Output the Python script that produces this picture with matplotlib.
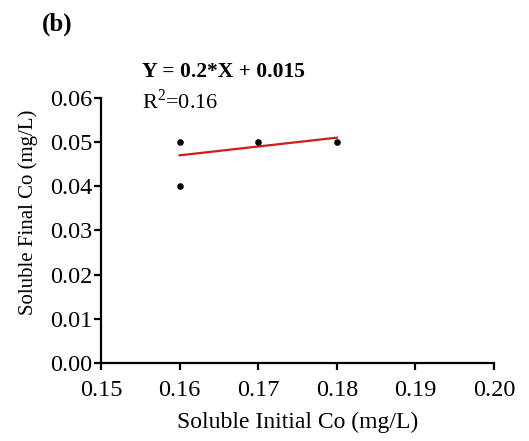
import matplotlib.pyplot as plt
import numpy as np

plt.rcParams['font.family'] = ['Liberation Serif', 'DejaVu Serif']
plt.rcParams['mathtext.fontset'] = 'custom'
plt.rcParams['mathtext.rm'] = 'Liberation Serif'

# data
initial_co = [0.16, 0.16, 0.17, 0.18]
final_co = [0.05, 0.04, 0.05, 0.05]
slope = 0.2
intercept = 0.015
r2 = 0.16

fig = plt.figure(figsize=(5.29, 4.41), dpi=100)
ax = fig.add_axes([0.191, 0.177, 0.743, 0.601])

ax.scatter(initial_co, final_co, color='black', s=14, zorder=3)

fit_x = np.array([min(initial_co), max(initial_co)])
ax.plot(fit_x, slope * fit_x + intercept, color='#d7191c', linewidth=1.6)

ax.set_xlim(0.15, 0.20)
ax.set_ylim(0.0, 0.06)
ax.set_xticks(np.arange(0.15, 0.2001, 0.01))
ax.set_yticks(np.arange(0.0, 0.0601, 0.01))
ax.xaxis.set_major_formatter(plt.FormatStrFormatter('%.2f'))
ax.yaxis.set_major_formatter(plt.FormatStrFormatter('%.2f'))

for side in ['top', 'right']:
    ax.spines[side].set_visible(False)
for side in ['left', 'bottom']:
    ax.spines[side].set_linewidth(1.6)
ax.tick_params(direction='out', length=5, width=1.6, labelsize=17.5)
ax.tick_params(axis='x', pad=7)
ax.tick_params(axis='y', pad=1)

ax.set_xlabel('Soluble Initial Co (mg/L)', fontsize=17, labelpad=8)
ax.set_ylabel('Soluble Final Co (mg/L)', fontsize=15)
ax.yaxis.set_label_coords(-0.16, 0.57)

fig.text(0.268, 0.837, 'Y = 0.2*X + 0.015', fontsize=15.5, fontweight='bold', va='center')
fig.text(0.268, 0.769, 'R$^{2}$=' + f'{r2:.2f}', fontsize=16, va='center')
fig.text(0.08, 0.946, '(b)', fontsize=18, fontweight='bold', va='center')

fig.savefig('out.png', dpi=100)
